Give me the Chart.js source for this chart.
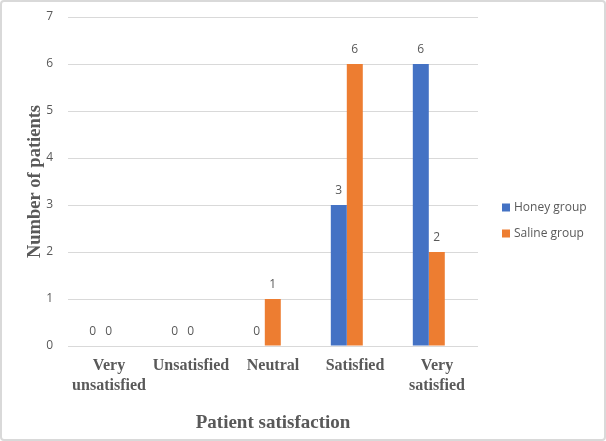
<!DOCTYPE html>
<html>
<head>
<meta charset="utf-8">
<script src="https://cdn.jsdelivr.net/npm/chart.js@4/dist/chart.umd.min.js"></script>
<style>
  html, body { margin: 0; padding: 0; background: #fff; }
  #wrap { position: relative; width: 606px; height: 441px; box-sizing: border-box; border: 2px solid #d9d9d9; border-radius: 4px; background: #fff; }
  canvas { display: block; }
</style>
</head>
<body>
<div id="wrap"><canvas id="c" width="602" height="437"></canvas></div>
<script>
const categories = [["Very", "unsatisfied"], "Unsatisfied", "Neutral", "Satisfied", ["Very", "satisfied"]];
const honeyValues = [0, 0, 0, 3, 6];
const salineValues = [0, 0, 1, 6, 2];
const seriesNames = ["Honey group", "Saline group"];
const seriesColors = ['#4472C4', '#ED7D31'];
const yTicks = [0, 1, 2, 3, 4, 5, 6, 7];

const gray = '#595959';
const serif = '"Liberation Serif", "Times New Roman", serif';
const sans = '"Open Sans", "DejaVu Sans", sans-serif';

// bars sit on a hidden linear index axis (slightly offset as in the source image)
const toPoints = arr => arr.map((v, i) => ({ x: i, y: v }));

const valueLabels = {
  id: 'valueLabels',
  afterDatasetsDraw(chart) {
    const ctx = chart.ctx;
    ctx.save();
    ctx.font = '12px ' + sans;
    ctx.fillStyle = gray;
    ctx.textAlign = 'center';
    ctx.textBaseline = 'middle';
    chart.data.datasets.forEach((ds, i) => {
      const meta = chart.getDatasetMeta(i);
      meta.data.forEach((bar, j) => {
        ctx.fillText(String(ds.data[j].y), bar.x, bar.y - 14);
      });
    });
    ctx.restore();
  }
};

const sideLegend = {
  id: 'sideLegend',
  afterDraw(chart) {
    const ctx = chart.ctx;
    const area = chart.chartArea;
    const x0 = area.right + 24;
    const yc = chart.height / 2;
    const gap = 26;
    ctx.save();
    ctx.font = '12px ' + sans;
    ctx.textBaseline = 'middle';
    ctx.textAlign = 'left';
    chart.data.datasets.forEach((ds, i) => {
      const y = yc + (i - (chart.data.datasets.length - 1) / 2) * gap;
      ctx.fillStyle = ds.backgroundColor;
      ctx.fillRect(x0, y - 4, 8, 8);
      ctx.fillStyle = gray;
      ctx.fillText(ds.label, x0 + 12, y);
    });
    ctx.restore();
  }
};

new Chart(document.getElementById('c'), {
  type: 'bar',
  data: {
    labels: categories,
    datasets: [
      { label: seriesNames[0], data: toPoints(honeyValues), backgroundColor: seriesColors[0], xAxisID: 'xb', categoryPercentage: 0.39, barPercentage: 1.0 },
      { label: seriesNames[1], data: toPoints(salineValues), backgroundColor: seriesColors[1], xAxisID: 'xb', categoryPercentage: 0.39, barPercentage: 1.0 }
    ]
  },
  options: {
    responsive: false,
    animation: false,
    layout: { padding: { top: 15, right: 126, bottom: 5, left: 22 } },
    plugins: {
      legend: { display: false },
      tooltip: { enabled: false }
    },
    scales: {
      x: {
        type: 'category',
        position: 'bottom',
        grid: { display: false, drawTicks: false },
        border: { display: false },
        ticks: {
          color: gray,
          font: { size: 16, weight: 'bold', family: serif, lineHeight: 1.25 },
          maxRotation: 0, autoSkip: false, padding: 10
        },
        afterFit(axis) { axis.height = 88; axis.paddingTop = 0; axis.paddingBottom = 0; },
        title: {
          display: true, text: 'Patient satisfaction', color: gray,
          font: { size: 19, weight: 'bold', family: serif },
          padding: { top: 0, bottom: 0 }
        }
      },
      xb: {
        type: 'linear',
        display: false,
        min: -0.4,
        max: 4.6,
        offset: false,
        afterBuildTicks(axis) { axis.ticks = categories.map((c, i) => ({ value: i })); }
      },
      y: {
        min: 0, max: 7,
        afterBuildTicks(axis) { axis.ticks = yTicks.map(v => ({ value: v })); },
        afterFit(axis) { axis.width = 44; axis.paddingTop = 0; axis.paddingBottom = 0; },
        grid: { color: '#d9d9d9', lineWidth: 1, drawTicks: false },
        border: { display: false },
        ticks: {
          color: gray,
          font: { size: 12, family: sans },
          padding: 15
        },
        title: {
          display: true, text: 'Number of patients', color: gray,
          font: { size: 18.5, weight: 'bold', family: serif },
          padding: { top: 0, bottom: 0 }
        }
      }
    }
  },
  plugins: [valueLabels, sideLegend]
});
</script>
</body>
</html>
